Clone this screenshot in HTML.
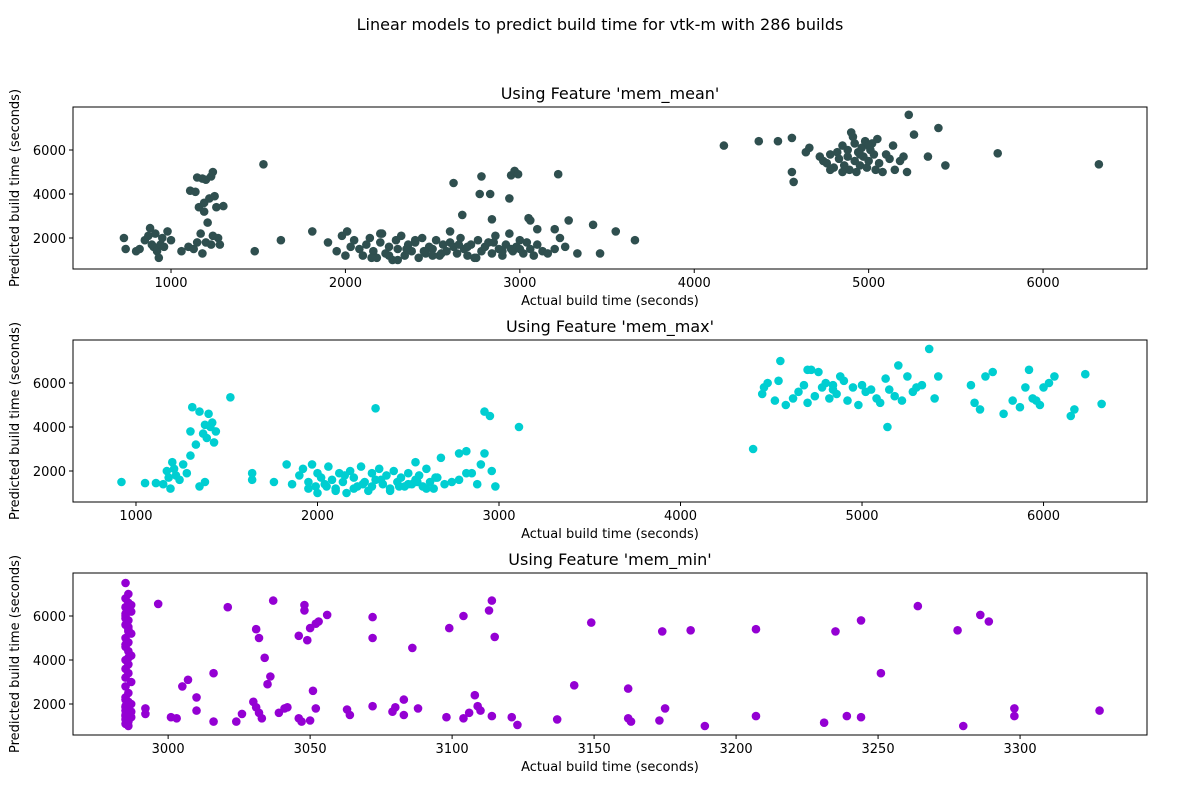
<!DOCTYPE html>
<html><head><meta charset="utf-8"><style>
body{margin:0;background:#fff;font-family:"DejaVu Sans","Liberation Sans",sans-serif}
svg text{font-family:"DejaVu Sans","Liberation Sans",sans-serif;fill:#000}
</style></head><body>
<svg id="c" width="1200" height="800" xmlns="http://www.w3.org/2000/svg">
<rect width="1200" height="800" fill="#fff"/>
<text x="600" y="30" text-anchor="middle" font-size="16">Linear models to predict build time for vtk-m with 286 builds</text>
</svg>
<script>
const xTicks1=[1000,2000,3000,4000,5000,6000];
const xTicks2=[1000,2000,3000,4000,5000,6000];
const xTicks3=[3000,3050,3100,3150,3200,3250,3300];
const yTicks=[2000,4000,6000];
const titles=["Using Feature 'mem_mean'","Using Feature 'mem_max'","Using Feature 'mem_min'"];
const actual1=[730,740,800,820,850,870,880,890,900,910,920,930,940,950,960,980,1000,1060,1100,1110,1140,1150,1160,1170,1180,1190,1200,1210,1220,1230,1240,1250,1260,1270,1280,1300,1200,1230,1240,1150,1130,1190,1180,1480,1530,1630,1810,
1900,1950,1980,2000,2010,2030,2050,2080,2100,2120,2140,2160,2180,2200,2210,2230,2250,2270,2290,2300,2320,2340,2360,2380,2400,2420,2440,2460,2480,2500,2520,2540,2560,2580,2600,2620,2640,2660,2680,2700,2720,2740,2760,2780,2800,2820,2840,2860,2880,2900,2920,2940,2960,2980,3000,3020,3040,3060,3080,3100,3130,3160,3200,3230,3260,2150,2250,2350,2450,2550,2650,2750,2850,2950,2200,2300,2400,2500,2600,2700,2900,3000,
2620,2670,2770,2780,2830,2840,2950,2970,2990,2940,3050,3060,3220,3280,3420,3550,3660,3460,3330,3100,3200,
4170,4370,4480,4560,4560,4570,4640,4660,4720,4740,4760,4780,4800,4820,4830,4850,4860,4880,4890,4900,4910,4920,4930,4940,4950,4960,4970,4980,4990,5000,5010,5020,5030,5040,5050,5060,5080,5100,5120,5140,5150,5180,5200,5220,5230,5260,5340,5400,5440,5740,6320,4880,4950,5000,4920,4780,4850];
const pred1=[2000,1500,1400,1500,1900,2100,2450,1700,1600,2200,1400,1100,1700,2000,1600,2300,1900,1400,1600,4150,4100,4750,3400,2200,4700,3600,4650,2700,3800,4800,5000,3900,3400,2000,1700,3450,1800,1700,2100,1800,1500,3200,1300,1400,5350,1900,2300,
1800,1400,2100,1200,2300,1600,1900,1500,1200,1700,2000,1400,1100,1800,2200,1300,1600,1000,1900,1500,2100,1200,1700,1400,1800,1100,2000,1300,1600,1500,1900,1200,1700,1400,1800,1600,1300,2000,1500,1200,1700,1100,1900,1400,1600,1800,1300,2100,1500,1200,1700,2200,1400,1600,1900,1300,1800,1500,1200,1700,1400,1300,1500,2000,1600,1100,1200,1500,1400,1300,1700,1100,1800,1500,2200,1000,1900,1200,2300,1600,1400,1500,
4500,3050,4000,4800,4000,2850,4850,5050,4900,3800,2900,2800,4900,2800,2600,2300,1900,1300,1300,2400,2400,
6200,6400,6400,6550,5000,4550,5900,6100,5700,5500,5400,5800,5200,5900,5600,6200,5300,5700,5100,6800,6600,5500,5000,5900,5300,6100,5700,6400,5200,5500,6000,6300,5800,5100,6500,5400,5000,5800,5600,6200,5100,5500,5700,5000,7600,6700,5700,7000,5300,5850,5350,6000,5800,6200,6300,5100,5000];
const actual2=[920,1050,1110,1150,1170,1180,1190,1200,1210,1220,1240,1260,1280,1300,1310,1330,1350,1370,1380,1390,1400,1410,1420,1430,1440,1300,1350,1380,1520,1640,1640,1760,1830,1860,
1900,1920,1950,1970,1990,2000,2020,2040,2060,2080,2100,2120,2140,2160,2180,2200,2220,2240,2260,2280,2300,2320,2340,2360,2380,2400,2420,2440,2460,2480,2500,2520,2540,2560,2580,2600,2620,2640,2660,2680,2700,2740,2780,2820,2880,2920,1950,2050,2150,2250,2350,2450,2550,2650,2000,2100,2200,2300,2400,2500,2600,
2320,2540,2780,2820,2850,2900,2920,2950,2960,2980,3110,
4400,4450,4460,4480,4520,4540,4550,4580,4620,4650,4680,4700,4720,4740,4760,4780,4800,4820,4840,4860,4880,4900,4920,4950,4980,5000,5020,5050,5080,5100,5130,5150,5180,5200,5220,5250,5280,5300,5330,5370,5400,5420,5600,5620,5650,5680,5720,5780,5830,5870,5900,5920,5940,5960,5980,6000,6030,6060,6150,6170,6230,6320,5140,4840,4700];
const pred2=[1500,1450,1450,1400,2000,1700,1200,2400,2100,1800,1600,2300,1900,3800,4900,3200,4700,3700,4100,3500,4600,4000,4200,3300,3800,2700,1300,1500,5350,1900,1600,1500,2300,1400,
1800,2100,1500,2300,1300,1900,1700,1400,2200,1600,1200,1900,1500,1000,2000,1700,1300,2200,1500,1100,1900,1600,2100,1400,1800,1200,2000,1500,1700,1300,1900,1400,1600,1800,1300,2100,1500,1200,1700,2600,1400,1500,1600,1900,1400,2800,1200,1300,1800,1400,1600,1300,1500,1700,1000,1100,1200,1300,1100,1400,1200,
4850,2400,2800,2900,1900,2300,4700,4500,2000,1300,4000,
3000,5500,5800,6000,5200,6100,7000,5000,5300,5600,5900,5100,6600,5400,6500,5800,6000,5300,5700,5500,6300,6100,5200,5800,5000,5900,5600,5700,5300,5100,6200,5700,5400,6800,5200,6300,5600,5800,5900,7550,5300,6300,5900,5100,4800,6300,6500,4600,5200,4900,5800,6600,5300,5200,5000,5800,6000,6300,4500,4800,6400,5050,4000,5900,6600];
const actual3=[2985,2986,2985,2986,2985,2987,2985,2986,2985,2986,2987,2985,2986,2985,2986,2987,2985,2986,2985,2986,2985,2987,2985,2986,2985,2986,2987,2985,2986,2985,2986,2985,2987,2985,2986,2985,2986,2987,2985,2986,2985,2986,2985,2987,2985,2986,2985,2986,2985,2986,
2996.5,2992,2992,3001,3003,3005,3007,3010,3010,3016,3016,3021,3024,3026,3030,3031,3032,3031,3032,3033,3034,3035,3036,3037,3039,3041,3042,3046,3047,3046,3048,3048,3050,3049,3052,3053,3056,3050,3051,3052,3063,3064,3072,3072,3072,3079,3080,3083,3083,3086,3088,3098,3099,3104,3104,3106,3108,3109,3110,3115,3113,3114,3114,3123,3121,3137,3143,3149,3162,3162,3163,3173,3174,3175,3184,3189,3207,3207,3231,3235,3239,3244,3244,3251,3264,3278,3280,3286,3289,3298,3298,3328];
const pred3=[7500,7000,6800,6600,6400,6200,6000,5800,5600,5400,5200,5000,4800,4600,4400,4200,4000,3800,3600,3400,3200,3000,2800,2500,2300,2100,2000,1900,1800,1700,1600,1500,1400,1300,1200,1100,1000,6500,5900,5300,4700,4100,1850,1650,1450,1250,2200,1550,6100,5500,
6550,1800,1550,1400,1350,2800,3100,2300,1700,3400,1200,6400,1200,1550,2100,5400,5000,1850,1600,1350,4100,2900,3250,6700,1600,1800,1850,1350,1200,5100,6500,6250,5450,4900,5650,5750,6050,1250,2600,1800,1750,1500,1900,5000,5950,1650,1850,2200,1500,4550,1800,1400,5450,6000,1350,1600,2400,1900,1700,5050,6250,6700,1450,1050,1400,1300,2850,5700,2700,1350,1200,1250,5300,1800,5350,1000,1450,5400,1150,5300,1450,5800,1400,3400,6450,5350,1000,6050,5750,1800,1450,1700];
const S=document.getElementById('c'),NS='http://www.w3.org/2000/svg';
function mk(t,a,p){const e=document.createElementNS(NS,t);for(const k in a)e.setAttribute(k,a[k]);(p||S).appendChild(e);return e;}
const panels=[
 {top:107,x0:438,x1:6596,xs:xTicks1,ax:actual1,pr:pred1,col:'#2f4f4f',nm:'mem-mean'},
 {top:340,x0:653,x1:6570,xs:xTicks2,ax:actual2,pr:pred2,col:'#00ced1',nm:'mem-max'},
 {top:573,x0:2966.5,x1:3344.7,xs:xTicks3,ax:actual3,pr:pred3,col:'#9400d3',nm:'mem-min'}];
const L=73,R=1147,H=162,Y0=591,Y1=7955;
panels.forEach((p,i)=>{
 const g=mk('g',{});
 
 
 const sx=v=>L+(v-p.x0)/(p.x1-p.x0)*(R-L);
 const sy=v=>p.top+H-(v-Y0)/(Y1-Y0)*H;
 const t=mk('text',{x:(L+R)/2,y:p.top-8,'text-anchor':'middle','font-size':16},g);t.textContent=titles[i];
 
 p.ax.forEach((v,j)=>{const c=mk('circle',{cx:sx(v),cy:sy(p.pr[j]),r:4.3,fill:p.col},g);
  });
 const f=mk('rect',{x:L,y:p.top,width:R-L,height:H,fill:'none',stroke:'#000','stroke-width':1},g);
 
 p.xs.forEach(v=>{const x=sx(v);mk('line',{x1:x,x2:x,y1:p.top+H,y2:p.top+H+4,stroke:'#000'},g);
  const tt=mk('text',{x:x,y:p.top+H+18,'text-anchor':'middle','font-size':13},g);tt.textContent=v;
  });
 yTicks.forEach(v=>{const y=sy(v);mk('line',{x1:L-4,x2:L,y1:y,y2:y,stroke:'#000'},g);
  const tt=mk('text',{x:L-7,y:y+5,'text-anchor':'end','font-size':13},g);tt.textContent=v;
  });
 const xl=mk('text',{x:(L+R)/2,y:p.top+H+36,'text-anchor':'middle','font-size':13},g);xl.textContent='Actual build time (seconds)';
 
 const yl=mk('text',{x:0,y:0,'text-anchor':'middle','font-size':13,transform:`translate(19,${p.top+H/2}) rotate(-90)`},g);yl.textContent='Predicted build time (seconds)';
 
});
</script>
</body></html>
